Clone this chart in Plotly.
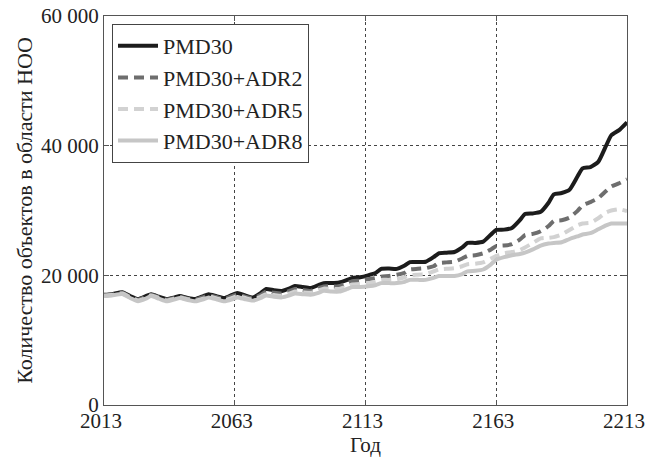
import plotly.graph_objects as go

years = [2013, 2016, 2020, 2023, 2026, 2029, 2031, 2034, 2037, 2040, 2042, 2045, 2048, 2051,
         2053, 2056, 2059, 2062, 2064, 2067, 2070, 2073, 2075, 2078, 2081, 2084, 2086, 2089,
         2092, 2095, 2097, 2100, 2103, 2106, 2108, 2111, 2114, 2117, 2119, 2122, 2125, 2128,
         2130, 2133, 2136, 2139, 2141, 2144, 2147, 2150, 2152, 2155, 2158, 2161, 2163, 2166,
         2169, 2172, 2174, 2177, 2180, 2183, 2185, 2188, 2191, 2194, 2196, 2199, 2202, 2205,
         2207, 2210, 2213]

pmd30 = [17000, 17100, 17400, 16800, 16350, 16800, 17100, 16700, 16350, 16600, 16800, 16500, 16350, 16800,
         17100, 16800, 16500, 17000, 17270, 16900, 16600, 17300, 17900, 17700, 17600, 18000, 18350, 18200,
         18040, 18500, 18800, 18800, 18900, 19300, 19600, 19700, 20000, 20400, 21000, 21050, 21000, 21500,
         22050, 22050, 22100, 22800, 23400, 23500, 23600, 24300, 25000, 25000, 25200, 26300, 27000, 27050,
         27300, 28500, 29450, 29550, 29800, 31200, 32500, 32700, 33200, 35200, 36500, 36700, 37500, 40000,
         41600, 42400, 43600]

adr2 = [16950, 17050, 17300, 16700, 16250, 16700, 17000, 16600, 16250, 16500, 16700, 16400, 16250, 16650,
        16950, 16650, 16350, 16800, 17050, 16700, 16450, 17000, 17500, 17300, 17200, 17600, 17900, 17750,
        17600, 18000, 18300, 18300, 18300, 18800, 19100, 19200, 19400, 19600, 19800, 19900, 20100, 20400,
        20900, 21000, 21100, 21400, 21900, 22000, 22100, 22600, 23000, 23100, 23400, 24000, 24500, 24600,
        24800, 25500, 26200, 26400, 26800, 27600, 28400, 28500, 28900, 29900, 30800, 31300, 31900, 33000,
        33700, 34200, 34800]

adr5 = [16850, 16950, 17200, 16600, 16100, 16500, 16900, 16500, 16100, 16400, 16600, 16300, 16100, 16400,
        16750, 16450, 16150, 16500, 16800, 16500, 16250, 16700, 17100, 16950, 16850, 17200, 17500, 17400,
        17300, 17650, 17950, 17900, 17900, 18300, 18600, 18650, 18800, 19000, 19300, 19300, 19400, 19700,
        20000, 20100, 20200, 20600, 20900, 21000, 21100, 21400, 21700, 21800, 22000, 22600, 23000, 23400,
        23600, 23900, 24300, 25000, 25700, 25800, 25900, 26300, 27000, 27700, 28000, 28100, 28800, 29700,
        30000, 30200, 29900]

adr8 = [16800, 16900, 17100, 16500, 16000, 16400, 16800, 16400, 16000, 16300, 16500, 16200, 16000, 16300,
        16600, 16300, 16000, 16300, 16600, 16300, 16100, 16500, 16900, 16700, 16600, 16900, 17200, 17100,
        17000, 17300, 17600, 17500, 17500, 17900, 18200, 18200, 18300, 18500, 18800, 18800, 18800, 19000,
        19300, 19300, 19300, 19600, 19900, 19900, 19900, 20200, 20600, 20700, 20900, 21700, 22400, 22800,
        23100, 23300, 23500, 24000, 24600, 24900, 25000, 25100, 25600, 26000, 26300, 26500, 27100, 27700,
        28000, 28000, 28000]

series_names = ["PMD30", "PMD30+ADR2", "PMD30+ADR5", "PMD30+ADR8"]
x_ticks = [2013, 2063, 2113, 2163, 2213]
x_ticklabels = ["2013", "2063", "2113", "2163", "2213"]
y_ticks = [0, 20000, 40000, 60000]
y_ticklabels = ["0", "20 000", "40 000", "60 000"]

styles = [
    dict(color="#1c1c1c", width=4, dash="solid", shape="spline", smoothing=0.5),
    dict(color="#6e6e6e", width=4, dash="10px,6px", shape="spline", smoothing=0.5),
    dict(color="#d2d2d2", width=4, dash="10px,6px", shape="spline", smoothing=0.5),
    dict(color="#c6c6c6", width=4, dash="solid", shape="spline", smoothing=0.5),
]

fig = go.Figure()
for name, vals, st in zip(series_names, [pmd30, adr2, adr5, adr8], styles):
    fig.add_trace(go.Scatter(x=years, y=vals, mode="lines", name=name, line=st))

font_family = "Times New Roman, Liberation Serif, serif"
axis_common = dict(
    showline=True, linecolor="#555555", linewidth=1, mirror="ticks",
    ticks="inside", ticklen=5, tickcolor="#555555",
    showgrid=True, gridcolor="#444444", griddash="dot", gridwidth=1,
    zeroline=False, tickfont=dict(family=font_family, size=21, color="#222222"),
    automargin=False, ticklabeloverflow="allow",
)

fig.update_layout(
    width=647, height=459,
    margin=dict(l=104, r=20, t=16, b=54),
    paper_bgcolor="white", plot_bgcolor="white",
    font=dict(family=font_family, color="#222222"),
    showlegend=True,
    legend=dict(
        x=(112 - 104) / 523, y=1 - (24 - 16) / 389, xanchor="left", yanchor="top",
        bgcolor="white", bordercolor="#444444", borderwidth=1,
        font=dict(family=font_family, size=22, color="#222222"),
        itemwidth=40, tracegroupgap=0,
    ),
    xaxis=dict(range=[2013, 2213], tickvals=x_ticks, ticktext=x_ticklabels,
               ticklabelshift=-3, ticklabelstandoff=-3,
               title=dict(text="Год", font=dict(family=font_family, size=21), standoff=0),
               **axis_common),
    yaxis=dict(range=[0, 60000], tickvals=y_ticks, ticktext=y_ticklabels,
               title=dict(text="Количество объектов в области НОО", font=dict(family=font_family, size=22), standoff=2),
               **axis_common),
)

fig.write_html("out.html")
